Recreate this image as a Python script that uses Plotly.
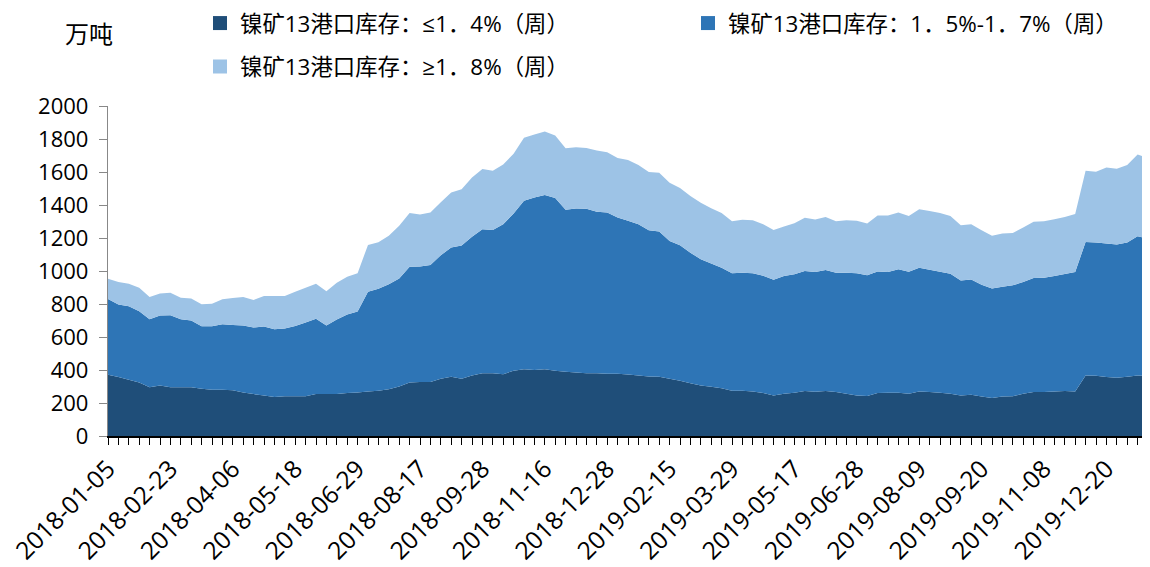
import plotly.graph_objects as go

dates = [
    "2018-01-05", "2018-01-12", "2018-01-19", "2018-01-26", "2018-02-02", "2018-02-09",
    "2018-02-23", "2018-03-02", "2018-03-09", "2018-03-16", "2018-03-23", "2018-03-30",
    "2018-04-06", "2018-04-13", "2018-04-20", "2018-04-27", "2018-05-04", "2018-05-11",
    "2018-05-18", "2018-05-25", "2018-06-01", "2018-06-08", "2018-06-15", "2018-06-22",
    "2018-06-29", "2018-07-06", "2018-07-13", "2018-07-20", "2018-08-03", "2018-08-10",
    "2018-08-17", "2018-08-24", "2018-08-31", "2018-09-07", "2018-09-14", "2018-09-21",
    "2018-09-28", "2018-10-12", "2018-10-19", "2018-10-26", "2018-11-02", "2018-11-09",
    "2018-11-16", "2018-11-23", "2018-11-30", "2018-12-07", "2018-12-14", "2018-12-21",
    "2018-12-28", "2019-01-04", "2019-01-11", "2019-01-18", "2019-01-25", "2019-02-01",
    "2019-02-15", "2019-02-22", "2019-03-01", "2019-03-08", "2019-03-15", "2019-03-22",
    "2019-03-29", "2019-04-05", "2019-04-12", "2019-04-19", "2019-04-26", "2019-05-10",
    "2019-05-17", "2019-05-24", "2019-05-31", "2019-06-07", "2019-06-14", "2019-06-21",
    "2019-06-28", "2019-07-05", "2019-07-12", "2019-07-19", "2019-07-26", "2019-08-02",
    "2019-08-09", "2019-08-16", "2019-08-23", "2019-08-30", "2019-09-06", "2019-09-13",
    "2019-09-20", "2019-09-27", "2019-10-11", "2019-10-18", "2019-10-25", "2019-11-01",
    "2019-11-08", "2019-11-15", "2019-11-22", "2019-11-29", "2019-12-06", "2019-12-13",
    "2019-12-20", "2019-12-27", "2020-01-03", "2020-01-10", "2020-01-17",
]

low_grade = [
    371, 357, 341, 324, 296, 306, 296, 296, 296, 286, 280, 280, 278, 264, 254, 245, 237,
    241, 241, 241, 254, 254, 254, 260, 263, 270, 274, 284, 300, 324, 327, 327, 347, 359,
    347, 367, 381, 381, 375, 395, 404, 400, 404, 395, 389, 385, 381, 381, 377, 377, 373,
    367, 361, 359, 347, 335, 320, 306, 298, 290, 274, 274, 270, 260, 245, 256, 262, 272,
    268, 272, 266, 256, 245, 243, 261, 262, 262, 256, 270, 266, 262, 256, 245, 250, 239,
    231, 239, 241, 256, 266, 266, 270, 272, 270, 367, 365, 357, 353, 359, 367, 361,
]

mid_grade = [
    460, 440, 446, 432, 412, 424, 436, 412, 404, 379, 385, 397, 395, 405, 403, 418, 410,
    410, 426, 447, 456, 415, 452, 476, 491, 604, 618, 635, 655, 702, 701, 709, 748, 783,
    807, 840, 872, 868, 909, 954, 1022, 1046, 1056, 1047, 982, 994, 996, 978, 978, 948,
    931, 917, 886, 880, 835, 821, 791, 765, 748, 730, 712, 716, 716, 711, 702, 714, 718,
    728, 726, 734, 724, 734, 741, 732, 736, 732, 748, 740, 750, 742, 734, 728, 698, 699,
    678, 663, 665, 672, 677, 691, 693, 699, 710, 724, 809, 807, 809, 807, 813, 844, 836,
]

high_grade = [
    122, 136, 136, 142, 134, 134, 136, 130, 134, 134, 136, 152, 163, 173, 168, 185, 201,
    197, 207, 210, 213, 209, 223, 229, 233, 284, 282, 294, 319, 325, 315, 319, 321, 334,
    342, 360, 365, 359, 361, 361, 381, 381, 386, 379, 373, 371, 369, 371, 365, 360, 369,
    359, 353, 357, 353, 347, 343, 343, 335, 331, 316, 320, 322, 313, 302, 300, 310, 322,
    318, 322, 312, 318, 318, 313, 339, 342, 345, 338, 355, 355, 355, 350, 335, 335, 330,
    319, 323, 318, 330, 341, 343, 345, 346, 351, 432, 430, 462, 460, 471, 495, 488,
]

series_names = [
    "镍矿13港口库存：≤1．4%（周）",
    "镍矿13港口库存：1．5%-1．7%（周）",
    "镍矿13港口库存：≥1．8%（周）",
]
series_values = [low_grade, mid_grade, high_grade]
colors = ["#1F4E79", "#2E75B6", "#9DC3E6"]
legend_ids = ["legend", "legend2", "legend3"]

label_every = 6
tick_text = [d if i % label_every == 0 else "" for i, d in enumerate(dates)]

FONT = "Open Sans, Noto Sans CJK SC, sans-serif"

fig = go.Figure()
for name, vals, col in zip(series_names, series_values, colors):
    fig.add_trace(go.Scatter(
        x=dates, y=vals, mode="none", stackgroup="one",
        fillcolor=col, line=dict(width=0), name=name, showlegend=False,
        hovertemplate="%{x}<br>%{y}<extra></extra>",
    ))
for name, col, lg in zip(series_names, colors, legend_ids):
    fig.add_trace(go.Scatter(
        x=[None], y=[None], mode="markers", name=name, legend=lg,
        marker=dict(symbol="square", size=14, color=col),
    ))

# the page body has an 8px margin, so the figure is sized to fill the rest
W, H = 1142, 559
M_L, M_R, M_T, M_B = 100, 2, 98, 131
PLOT_H = H - M_T - M_B
PLOT_W = W - M_L - M_R

def leg(xpx, ypx):
    return dict(
        x=xpx / W, y=1 - ypx / H, xref="container", yref="container",
        xanchor="left", yanchor="middle", orientation="h",
        font=dict(family=FONT, size=22.4, color="#000000"),
        bgcolor="rgba(0,0,0,0)", borderwidth=0,
    )

fig.update_layout(
    width=W, height=H,
    margin=dict(l=M_L, r=M_R, t=M_T, b=M_B, autoexpand=False),
    paper_bgcolor="white", plot_bgcolor="white",
    font=dict(family=FONT, size=22, color="#000000"),
    legend=leg(192, 15.5),
    legend2=leg(680, 15.5),
    legend3=leg(192, 59),
    xaxis=dict(
        type="category", categoryorder="array", categoryarray=dates,
        range=[0, len(dates) - 1], automargin=False,
        tickmode="array", tickvals=dates, ticktext=tick_text,
        tickangle=-45, ticks="outside", ticklen=7, tickwidth=1.3, tickcolor="#000000",
        showline=True, linecolor="#000000", linewidth=1.8,
        showgrid=False, zeroline=False,
        tickfont=dict(family=FONT, size=24.5, color="#000000"),
    ),
    yaxis=dict(
        range=[0, 2000], dtick=200, tick0=0, tickformat="d", automargin=False,
        ticks="outside", ticklen=8, tickcolor="#888888", tickwidth=1.3,
        showline=True, linecolor="#888888", linewidth=1.3,
        showgrid=False, zeroline=False, ticklabelstandoff=6,
        tickfont=dict(family=FONT, size=22, color="#000000"),
    ),
    annotations=[dict(
        text="万吨", xref="paper", yref="paper",
        x=7 / PLOT_W, y=(H - M_B - 25) / PLOT_H,
        xanchor="right", yanchor="middle", showarrow=False,
        font=dict(family=FONT, size=24, color="#000000"),
    )],
)

fig.write_html("out.html")
